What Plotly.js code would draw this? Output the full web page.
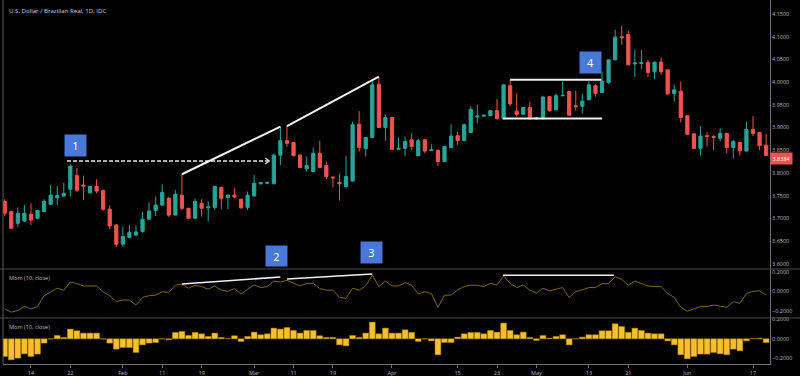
<!DOCTYPE html>
<html>
<head>
<meta charset="utf-8">
<script src="https://cdn.plot.ly/plotly-3.0.1.min.js"></script>
<style>html,body{margin:0;padding:0;background:#000;}#chart{width:800px;height:376px;}</style>
</head>
<body>
<div id="chart"></div>
<script>
const dates = [
'2019-01-08','2019-01-09','2019-01-10','2019-01-11',
'2019-01-14','2019-01-15','2019-01-16','2019-01-17','2019-01-18',
'2019-01-21','2019-01-22','2019-01-23','2019-01-24','2019-01-25',
'2019-01-28','2019-01-29','2019-01-30','2019-01-31','2019-02-01',
'2019-02-04','2019-02-05','2019-02-06','2019-02-07','2019-02-08',
'2019-02-11','2019-02-12','2019-02-13','2019-02-14','2019-02-15',
'2019-02-18','2019-02-19','2019-02-20','2019-02-21','2019-02-22',
'2019-02-25','2019-02-26','2019-02-27','2019-02-28','2019-03-01',
'2019-03-04','2019-03-05','2019-03-06','2019-03-07','2019-03-08',
'2019-03-11','2019-03-12','2019-03-13','2019-03-14','2019-03-15',
'2019-03-18','2019-03-19','2019-03-20','2019-03-21','2019-03-22',
'2019-03-25','2019-03-26','2019-03-27','2019-03-28','2019-03-29',
'2019-04-01','2019-04-02','2019-04-03','2019-04-04','2019-04-05',
'2019-04-08','2019-04-09','2019-04-10','2019-04-11','2019-04-12',
'2019-04-15','2019-04-16','2019-04-17','2019-04-18','2019-04-19',
'2019-04-22','2019-04-23','2019-04-24','2019-04-25','2019-04-26',
'2019-04-29','2019-04-30','2019-05-01','2019-05-02','2019-05-03',
'2019-05-06','2019-05-07','2019-05-08','2019-05-09','2019-05-10',
'2019-05-13','2019-05-14','2019-05-15','2019-05-16','2019-05-17',
'2019-05-20','2019-05-21','2019-05-22','2019-05-23','2019-05-24',
'2019-05-27','2019-05-28','2019-05-29','2019-05-30','2019-05-31',
'2019-06-03','2019-06-04','2019-06-05','2019-06-06','2019-06-07',
'2019-06-10','2019-06-11','2019-06-12','2019-06-13','2019-06-14',
'2019-06-17','2019-06-18','2019-06-19'];

const openP = [
3.737,3.715,3.689,3.694,3.709,3.700,3.715,3.731,3.745,3.749,
3.764,3.794,3.773,3.756,3.770,3.761,3.720,3.685,3.643,3.658,
3.663,3.671,3.698,3.717,3.729,3.744,3.707,3.751,3.722,3.700,
3.733,3.723,3.724,3.768,3.746,3.751,3.742,3.724,3.749,3.776,
3.777,3.776,3.839,3.871,3.867,3.839,3.809,3.803,3.843,3.816,
3.791,3.779,3.770,3.782,3.907,3.853,3.878,3.995,3.900,3.922,
3.852,3.854,3.873,3.838,3.873,3.849,3.850,3.825,3.856,3.882,
3.871,3.889,3.923,3.925,3.926,3.937,3.919,3.992,3.936,3.929,
3.944,3.919,3.919,3.968,3.939,3.970,3.979,3.948,3.947,3.961,
3.992,3.977,3.999,4.049,4.100,4.105,4.040,4.041,4.043,4.023,
4.044,4.027,3.975,3.980,3.926,3.886,3.854,3.882,3.880,3.876,
3.887,3.856,3.867,3.848,3.896,3.889,3.861];

const highP = [
3.742,3.717,3.724,3.729,3.733,3.719,3.742,3.773,3.771,3.778,
3.818,3.811,3.794,3.771,3.786,3.763,3.729,3.687,3.682,3.685,
3.684,3.715,3.735,3.748,3.775,3.747,3.762,3.797,3.723,3.743,
3.742,3.737,3.771,3.770,3.752,3.766,3.743,3.759,3.795,3.779,
3.780,3.843,3.902,3.903,3.868,3.842,3.836,3.856,3.871,3.825,
3.791,3.798,3.837,3.913,3.936,3.879,4.005,4.012,3.929,3.923,
3.878,3.880,3.887,3.875,3.874,3.863,3.851,3.859,3.907,3.891,
3.909,3.947,3.950,3.928,3.938,3.963,3.994,4.005,3.975,3.945,
3.957,3.923,3.970,3.969,3.975,4.001,3.980,3.981,3.974,4.002,
3.995,4.023,4.050,4.115,4.124,4.113,4.071,4.071,4.049,4.045,
4.054,4.028,3.994,4.001,3.927,3.886,3.903,3.889,3.884,3.898,
3.888,3.873,3.868,3.913,3.925,3.890,3.886];

const lowP = [
3.705,3.676,3.681,3.692,3.685,3.698,3.713,3.729,3.729,3.748,
3.748,3.758,3.740,3.755,3.755,3.717,3.676,3.637,3.637,3.656,
3.661,3.668,3.697,3.705,3.728,3.703,3.707,3.718,3.699,3.699,
3.704,3.693,3.718,3.720,3.720,3.744,3.721,3.718,3.748,3.774,
3.775,3.775,3.817,3.858,3.836,3.810,3.803,3.802,3.810,3.786,
3.768,3.739,3.766,3.781,3.847,3.836,3.876,3.899,3.871,3.851,
3.852,3.837,3.850,3.837,3.843,3.849,3.815,3.824,3.856,3.861,
3.870,3.888,3.909,3.924,3.925,3.917,3.918,3.947,3.924,3.928,
3.918,3.917,3.918,3.935,3.938,3.968,3.926,3.937,3.931,3.960,
3.968,3.976,3.996,4.048,4.082,4.037,4.011,4.029,4.011,4.006,
4.016,3.972,3.957,3.911,3.884,3.853,3.838,3.858,3.850,3.869,
3.843,3.832,3.838,3.847,3.881,3.850,3.837];

const closeP = [
3.711,3.678,3.711,3.711,3.696,3.717,3.737,3.751,3.750,3.755,
3.815,3.762,3.771,3.770,3.760,3.720,3.683,3.643,3.660,3.669,
3.670,3.698,3.716,3.729,3.757,3.707,3.753,3.722,3.700,3.737,
3.722,3.725,3.770,3.744,3.751,3.747,3.723,3.751,3.777,3.778,
3.779,3.839,3.871,3.865,3.838,3.812,3.816,3.843,3.812,3.792,
3.789,3.776,3.792,3.906,3.856,3.878,3.994,3.900,3.922,3.852,
3.854,3.869,3.858,3.871,3.848,3.851,3.825,3.858,3.881,3.871,
3.906,3.940,3.925,3.927,3.937,3.920,3.994,3.952,3.929,3.944,
3.919,3.921,3.967,3.937,3.970,3.971,3.927,3.946,3.958,3.994,
3.975,4.002,4.049,4.099,4.098,4.038,4.042,4.043,4.021,4.044,
4.023,3.974,3.983,3.922,3.885,3.854,3.881,3.880,3.878,3.887,
3.856,3.869,3.849,3.896,3.887,3.860,3.8384];

const mom = [
-0.181,-0.215,-0.198,-0.154,-0.181,-0.157,-0.044,-0.003,0.034,0.014,
0.099,0.082,0.058,0.058,0.058,-0.003,-0.044,-0.106,-0.089,-0.089,
-0.140,-0.062,-0.044,-0.038,-0.002,-0.010,0.065,0.075,0.034,0.065,
0.051,0.024,0.058,0.014,0.002,0.031,-0.027,0.024,0.068,0.041,
0.051,0.109,0.099,0.116,0.085,0.058,0.085,0.085,0.031,0.014,
0.014,-0.062,-0.072,0.034,0.014,0.058,0.171,0.051,0.109,0.058,
0.058,0.092,0.065,-0.027,-0.003,-0.021,-0.164,-0.038,-0.038,0.017,
0.051,0.065,0.065,0.051,0.085,0.068,0.161,0.085,0.041,0.068,
0.014,-0.017,0.034,0.007,0.024,0.041,-0.062,-0.002,0.017,0.041,
0.041,0.082,0.082,0.154,0.126,0.065,0.109,0.085,0.058,0.051,
0.051,-0.021,-0.062,-0.164,-0.205,-0.181,-0.157,-0.157,-0.140,-0.154,
-0.164,-0.106,-0.123,-0.021,0.002,0.007,-0.038];

const tickDates = ['2019-01-14','2019-01-22','2019-02-01','2019-02-11','2019-02-19','2019-03-01','2019-03-11','2019-03-19','2019-04-01','2019-04-15','2019-04-23','2019-05-01','2019-05-13','2019-05-21','2019-06-03','2019-06-17'];
const tickText = ['14','22','Feb','11','19','Mar','11','19','Apr','15','23','May','13','21','Jun','17'];

const titleText = 'U.S. Dollar / Brazilian Real, 1D, IDC';
const panelText = 'Mom (10, close)';

const UP = '#26a69a', DN = '#ef5350';
const FONT = 'Open Sans, Noto Sans, sans-serif';
const TICKC = '#b8bcc4';
const LINEC = '#6e7079';
const last = closeP.length - 1;

const traces = [
  {type:'candlestick', x:dates, open:openP, high:highP, low:lowP, close:closeP,
   xaxis:'x', yaxis:'y',
   increasing:{line:{color:UP,width:1}, fillcolor:UP},
   decreasing:{line:{color:DN,width:1}, fillcolor:DN},
   hoverinfo:'skip'},
  {type:'scatter', mode:'lines', x:dates, y:mom, xaxis:'x', yaxis:'y2',
   line:{color:'#80661a', width:1}, hoverinfo:'skip'},
  {type:'bar', x:dates, y:mom, xaxis:'x', yaxis:'y3',
   marker:{color:'#f9bf2f', line:{color:'#b8860b', width:0.5}}, hoverinfo:'skip'}
];

const D1 = [0.2610, 1], D2 = [0.1264, 0.2610], D3 = [0, 0.1264];
const yCommon = {side:'right', showgrid:false, zeroline:false, showline:true,
  linecolor:LINEC, linewidth:1, ticks:'', tickformat:'.4f',
  tickfont:{family:FONT, size:5.5, color:TICKC}, anchor:'x', fixedrange:true};

const layout = {
  width:800, height:376,
  margin:{l:3, r:30, t:0, b:12, pad:0},
  paper_bgcolor:'#000', plot_bgcolor:'#000',
  showlegend:false, hovermode:false, bargap:0.12, boxgap:0.3,
  font:{family:FONT, color:TICKC},
  xaxis:{type:'category', range:[-0.26, 116.59], anchor:'y3',
    rangeslider:{visible:false}, showgrid:false, zeroline:false,
    showline:true, linecolor:LINEC, linewidth:1,
    tickmode:'array', tickvals:tickDates, ticktext:tickText,
    ticks:'outside', ticklen:3, tickcolor:LINEC, tickangle:0,
    tickfont:{family:FONT, size:5.5, color:TICKC}},
  yaxis:Object.assign({}, yCommon, {domain:D1, range:[3.5883, 4.1808], tick0:3.6, dtick:0.05}),
  yaxis2:Object.assign({}, yCommon, {domain:D2, range:[-0.276, 0.2344], tickmode:'array', tickvals:[-0.2,0,0.2]}),
  yaxis3:Object.assign({}, yCommon, {domain:D3, range:[-0.2585, 0.2133], tickmode:'array', tickvals:[-0.2,0,0.2]}),
  shapes:[
    {type:'line', xref:'paper', yref:'paper', x0:-0.004, x1:1.04, y0:D1[0], y1:D1[0], line:{color:'#4a4a4a', width:1}},
    {type:'line', xref:'paper', yref:'paper', x0:-0.004, x1:1.04, y0:D2[0], y1:D2[0], line:{color:'#4a4a4a', width:1}},
    {type:'line', xref:'paper', yref:'paper', x0:0, x1:0, y0:0, y1:1, line:{color:'#5a5a5a', width:1}},
    {type:'line', xref:'x', yref:'y', x0:9.5, x1:40.2, y0:3.826, y1:3.826, line:{color:'#e8e8e8', width:1.5, dash:'4px,2px'}},
    {type:'path', xref:'x', yref:'y', xsizemode:'pixel', ysizemode:'pixel', xanchor:40.3, yanchor:3.826,
     path:'M-4,-3 L0,0 L-4,3', line:{color:'#e8e8e8', width:1.2}},
    {type:'line', xref:'x', yref:'y', x0:27, y0:highP[27], x1:42, y1:highP[42], line:{color:'#f0f0f0', width:2}},
    {type:'line', xref:'x', yref:'y', x0:43, y0:highP[43], x1:57, y1:highP[57], line:{color:'#f0f0f0', width:2}},
    {type:'line', xref:'x', yref:'y', x0:77, y0:highP[77], x1:90.9, y1:highP[77], line:{color:'#f0f0f0', width:2}},
    {type:'line', xref:'x', yref:'y', x0:75.9, y0:3.920, x1:91.0, y1:3.920, line:{color:'#f0f0f0', width:2}},
    {type:'line', xref:'x', yref:'y2', x0:27, y0:0.078, x1:42, y1:0.151, line:{color:'#f0f0f0', width:1.6}},
    {type:'line', xref:'x', yref:'y2', x0:43, y0:0.130, x1:56, y1:0.182, line:{color:'#f0f0f0', width:1.6}},
    {type:'line', xref:'x', yref:'y2', x0:75.9, y0:0.169, x1:92.8, y1:0.169, line:{color:'#f0f0f0', width:1.6}}
  ],
  annotations:[
    {xref:'paper', yref:'paper', x:0, y:1, xanchor:'left', yanchor:'top', xshift:4, yshift:-4,
     text:titleText, showarrow:false, font:{family:FONT, size:6.1, color:'#d1d4dc'}},
    {xref:'paper', yref:'paper', x:0, y:D2[1], xanchor:'left', yanchor:'top', xshift:4, yshift:-3,
     text:panelText, showarrow:false, font:{family:FONT, size:5.6, color:TICKC}},
    {xref:'paper', yref:'paper', x:0, y:D3[1], xanchor:'left', yanchor:'top', xshift:4, yshift:-3,
     text:panelText, showarrow:false, font:{family:FONT, size:5.6, color:TICKC}},
    {xref:'paper', yref:'y', x:1, y:closeP[last], xanchor:'left', yanchor:'top', yshift:3,
     text:closeP[last].toFixed(4), showarrow:false, bgcolor:DN, borderpad:1.5,
     font:{family:FONT, size:5.5, color:'#ffffff'}},
    {xref:'x', yref:'y', x:10.8, y:3.8604, text:'1', showarrow:false, width:19, height:19, bgcolor:'#4a78d6', font:{family:FONT, size:11, color:'#fff'}},
    {xref:'x', yref:'y', x:41.4, y:3.617, text:'2', showarrow:false, width:19, height:18, bgcolor:'#4a78d6', font:{family:FONT, size:11, color:'#fff'}},
    {xref:'x', yref:'y', x:55.9, y:3.6247, text:'3', showarrow:false, width:19, height:19, bgcolor:'#4a78d6', font:{family:FONT, size:11, color:'#fff'}},
    {xref:'x', yref:'y', x:89.2, y:4.0432, text:'4', showarrow:false, width:19, height:19, bgcolor:'#4a78d6', font:{family:FONT, size:11, color:'#fff'}}
  ]
};

Plotly.newPlot('chart', traces, layout, {displayModeBar:false, staticPlot:true});
</script>
</body>
</html>
